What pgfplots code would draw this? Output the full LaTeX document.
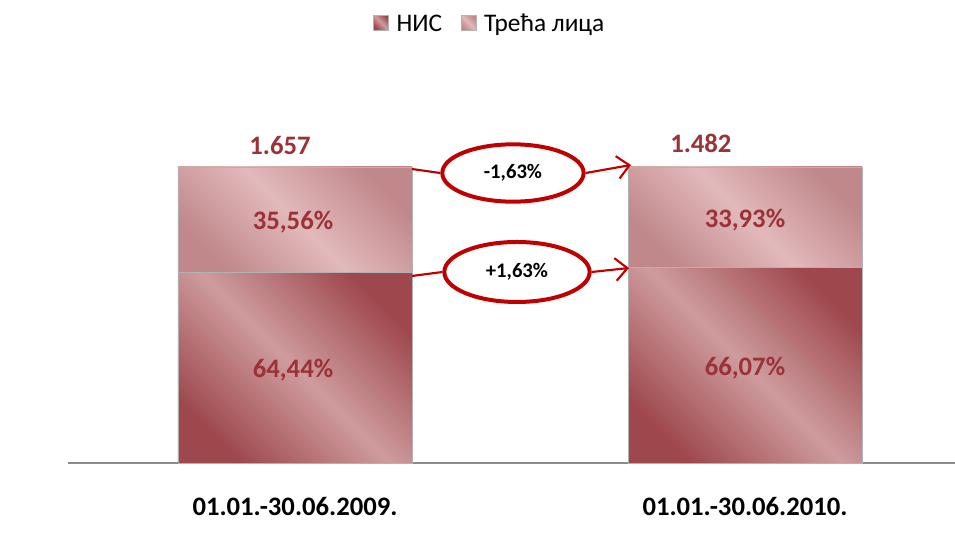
\documentclass[border=0pt]{standalone}
\usepackage{pgfplots}
\pgfplotsset{compat=1.18}
\usetikzlibrary{arrows.meta,shapes.geometric}
\usepackage{fontspec}
\setmainfont{Carlito}
\definecolor{nisdark}{RGB}{158,72,77}
\definecolor{nislight}{RGB}{206,156,158}
\definecolor{nismid}{RGB}{172,100,103}
\definecolor{tdark}{RGB}{192,136,139}
\definecolor{tlight}{RGB}{226,185,187}
\definecolor{tmid}{RGB}{205,152,154}
\definecolor{lab}{RGB}{155,50,55}
\definecolor{ered}{RGB}{192,0,0}
\pgfplotsset{
  common/.style={
    scale only axis,
    width=665.25pt, height=222pt,
    xmin=-0.5044, xmax=1.4667,
    ymin=0, ymax=100,
    clip=false,
    ybar stacked,
    bar width=175.5pt,
  },
  nisbar/.style={draw=black!30, line width=0.5pt, top color=nisdark, bottom color=nisdark, middle color=nislight, shading angle=-45},
  tbar/.style={draw=black!30, line width=0.5pt, top color=tdark, bottom color=tdark, middle color=tlight, shading angle=-45},
}
\begin{document}
\begin{tikzpicture}
\begin{axis}[
  common,
  hide y axis,
  axis x line*=bottom,
  x axis line style={draw=black!45, line width=1.4pt},
  xtick={0,1},
  xticklabels={01.01.-30.06.2009., 01.01.-30.06.2010.},
  xtick style={draw=none},
  xticklabel style={font=\fontsize{20}{24}\selectfont\bfseries, yshift=-22pt},
  legend columns=2,
  legend style={at={(0.476,1.483)}, anchor=center, draw=none, fill=none,
    font=\fontsize{19}{23}\selectfont,
    /tikz/every even column/.append style={column sep=12pt}},
]
\addplot[nisbar,
  legend image code/.code={\fill[nismid, draw=black!30, line width=0.3pt] (0pt,-4.5pt) rectangle (11.25pt,6.75pt); \path (15pt,0pt);}]
  coordinates {(0,64.44)};
\addlegendentry{НИС}
\addplot[tbar,
  legend image code/.code={\fill[tmid, draw=black!30, line width=0.3pt] (0pt,-4.5pt) rectangle (11.25pt,6.75pt); \path (15pt,0pt);}]
  coordinates {(0,35.56)};
\addlegendentry{Трећа лица}
\coordinate (l1) at (axis cs:-0.0044,31.4);
\coordinate (l2) at (axis cs:-0.0044,81.4);
\coordinate (l3) at (axis cs:1,32.1);
\coordinate (l4) at (axis cs:1,82.1);
\coordinate (l5) at (axis cs:-0.0333,107.4);
\coordinate (l6) at (axis cs:0.902,108.1);
\coordinate (c1) at (axis cs:0.4844,97.97);
\coordinate (c2) at (axis cs:0.4933,64.53);
\coordinate (s1) at (axis cs:0.26,99.32);
\coordinate (t1) at (axis cs:0.7467,100.68);
\coordinate (s2) at (axis cs:0.26,63.18);
\coordinate (t2) at (axis cs:0.7422,65.88);
\end{axis}
\begin{axis}[common, hide axis]
\addplot[nisbar] coordinates {(1,66.07)};
\addplot[tbar] coordinates {(1,33.93)};
\end{axis}
\begin{scope}[every node/.append style={font=\fontsize{20}{24}\selectfont\bfseries, text=lab}]
\node at (l1) {64,44\%};
\node at (l2) {35,56\%};
\node at (l3) {66,07\%};
\node at (l4) {33,93\%};
\node at (l5) {1.657};
\node at (l6) {1.482};
\end{scope}
\node[draw=ered, line width=3pt, ellipse, minimum width=106pt, minimum height=43pt, inner sep=0pt,
  font=\fontsize{15.5}{18}\selectfont\bfseries] (e1) at (c1) {-1,63\%};
\node[draw=ered, line width=3pt, ellipse, minimum width=109pt, minimum height=45pt, inner sep=0pt,
  font=\fontsize{15.5}{18}\selectfont\bfseries] (e2) at (c2) {+1,63\%};
\draw[ered, line width=1.6pt] (s1) -- (e1.west);
\draw[ered, line width=1.6pt, -{Straight Barb[length=9pt,width=17pt]}] (e1.east) -- (t1);
\draw[ered, line width=1.6pt] (s2) -- (e2.west);
\draw[ered, line width=1.6pt, -{Straight Barb[length=9pt,width=17pt]}] (e2.east) -- (t2);
\pgfresetboundingbox
\path[use as bounding box] ([shift={(-51pt,-69.75pt)}]current axis.south west) rectangle ([shift={(665.25pt,347.25pt)}]current axis.south west);
\end{tikzpicture}
\end{document}
